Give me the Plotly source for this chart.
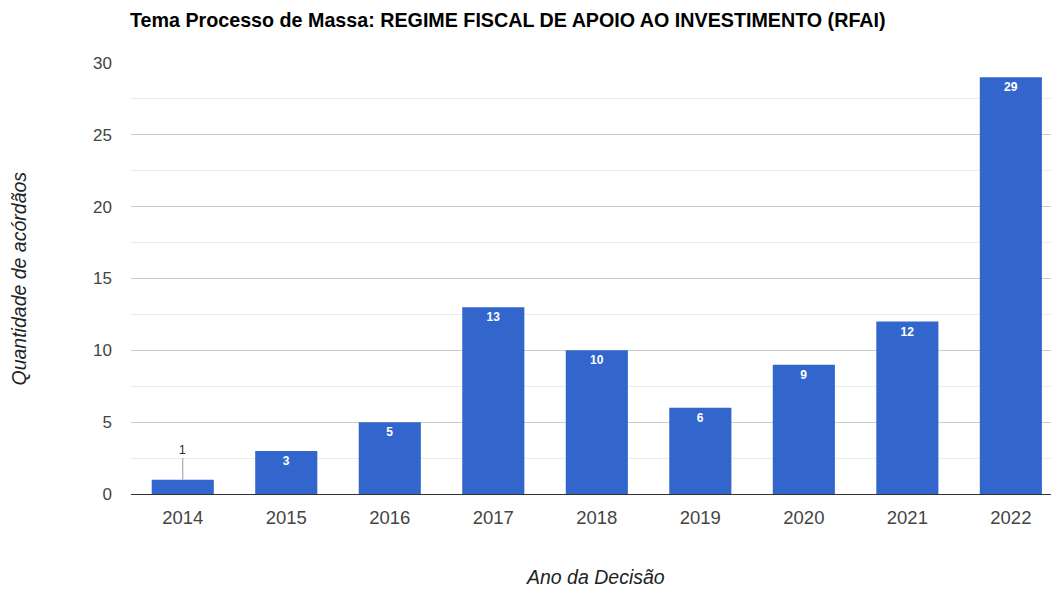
import plotly.graph_objects as go

anos = ["2014", "2015", "2016", "2017", "2018", "2019", "2020", "2021", "2022"]
acordaos = [1, 3, 5, 13, 10, 6, 9, 12, 29]

# labels inside the bars; the tiny first bar gets an outside label with a leader line
rotulos = ["" if v < 2 else str(v) for v in acordaos]

fig = go.Figure()
fig.add_trace(go.Bar(
    x=anos, y=acordaos,
    marker=dict(color="#3366cc", line=dict(width=0)),
    text=rotulos, textposition="inside", insidetextanchor="end",
    textfont=dict(color="white", size=12, family="Liberation Sans"),
    texttemplate="<b>%{text}</b>",
    cliponaxis=False,
))

for i, v in enumerate(acordaos):
    if v < 2:
        # category index, a "2014" string would be read as position 2014
        fig.add_annotation(x=i, y=v, text=str(v), showarrow=True, arrowhead=0,
                           arrowcolor="#999999", arrowwidth=1, ax=0, ay=-30,
                           font=dict(size=12, color="#222222", family="Liberation Sans"))

# page has an 8px body margin, so the figure is drawn 8px smaller than the window
fig.update_layout(
    width=1051, height=581,
    margin=dict(l=123, r=0, t=55, b=95),
    plot_bgcolor="white", paper_bgcolor="white",
    font=dict(family="Liberation Sans", color="#444444"),
    bargap=0.4,
    showlegend=False,
    title=dict(text="<b>Tema Processo de Massa: REGIME FISCAL DE APOIO AO INVESTIMENTO (RFAI)</b>",
               x=122 / 1051, xanchor="left", y=1 - 12 / 581, yanchor="middle",
               font=dict(size=19.7, color="#000000", family="Liberation Sans")),
    # the original chart runs a little past the right edge of the window
    xaxis=dict(type="category", range=[-0.5, len(anos) - 0.535], showgrid=False,
               showline=False, ticks="",
               tickfont=dict(size=18.5, color="#444444"), ticklabelstandoff=10),
    yaxis=dict(range=[0, 30], dtick=5, showgrid=True, gridcolor="#cccccc",
               zeroline=True, zerolinecolor="#333333", zerolinewidth=1,
               tickfont=dict(size=17, color="#444444"), ticklabelstandoff=18,
               minor=dict(dtick=2.5, showgrid=True, gridcolor="#ebebeb")),
)

fig.add_annotation(text="Quantidade de acórdãos", xref="paper", yref="paper",
                   x=(10 - 123) / 928, y=0.5, xanchor="center", yanchor="middle",
                   textangle=-90, showarrow=False,
                   font=dict(size=19.5, color="#222222", style="italic"))
fig.add_annotation(text="Ano da Decisão", xref="paper", yref="paper",
                   x=0.5, y=-83 / 431, xanchor="center", yanchor="middle",
                   showarrow=False,
                   font=dict(size=19.5, color="#222222", style="italic"))

fig.write_html("out.html")
